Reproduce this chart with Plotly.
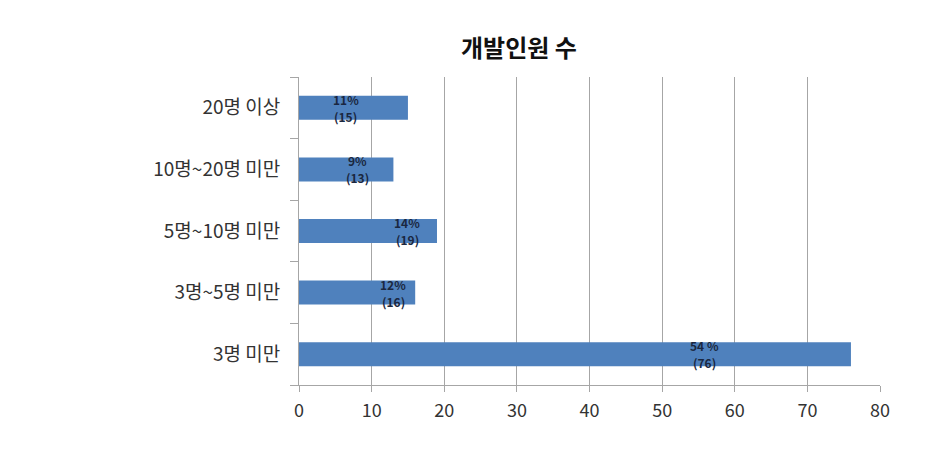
import plotly.graph_objects as go

# Data
categories = ["3명 미만", "3명~5명 미만", "5명~10명 미만", "10명~20명 미만", "20명 이상"]
counts = [76, 16, 19, 13, 15]
percent_labels = ["54 %", "12%", "14%", "9%", "11%"]
x_ticks = [0, 10, 20, 30, 40, 50, 60, 70, 80]

# Label placement (as fraction of each bar's length)
label_frac = [0.735, 0.81, 0.785, 0.62, 0.43]

FONT = "Noto Sans CJK KR"

L, R, T, B = 291, 76, 69, 72
W, H = 948, 449
plot_w = W - L - R
plot_h = H - T - B

fig = go.Figure()
fig.add_trace(go.Bar(
    y=categories, x=counts, orientation="h",
    marker=dict(color="#4f81bd", line=dict(width=0)),
    hoverinfo="skip",
))

for cat, v, p, f in zip(categories, counts, percent_labels, label_frac):
    fig.add_annotation(
        x=v * f, y=cat, xref="x", yref="y", yshift=8.5, yanchor="middle",
        text=f"<b>{p}</b>", showarrow=False, borderpad=0,
        font=dict(family=FONT, size=12, color="#1a2740", weight="bold"),
    )
    fig.add_annotation(
        x=v * f, y=cat, xref="x", yref="y", yshift=-8.5, yanchor="middle",
        text=f"<b>({v})</b>", showarrow=False, borderpad=0,
        font=dict(family=FONT, size=12, color="#1a2740", weight="bold"),
    )

fig.add_annotation(
    x=(511 - L) / plot_w, y=1 + (T - 38) / plot_h,
    xref="paper", yref="paper",
    xanchor="center", yanchor="middle",
    text="<b>개발인원 수</b>", showarrow=False,
    font=dict(family=FONT, size=24, color="#111111"),
)

fig.update_layout(
    width=W, height=H,
    margin=dict(l=L, r=R, t=T, b=B),
    paper_bgcolor="white", plot_bgcolor="white",
    showlegend=False,
    bargap=0.61,
    font=dict(family=FONT, size=18, color="#333333"),
)
fig.update_xaxes(
    range=[0, 80], tickvals=x_ticks, ticktext=[str(t) for t in x_ticks],
    showgrid=True, gridcolor="#a6a6a6", gridwidth=1,
    showline=True, linecolor="#a6a6a6", linewidth=1,
    ticks="outside", ticklen=6, tickcolor="#a6a6a6",
    tickfont=dict(family=FONT, size=18, color="#333333"),
    ticklabelstandoff=3,
    zeroline=False, fixedrange=True,
)
fig.update_yaxes(
    categoryorder="array", categoryarray=categories,
    showline=True, linecolor="#a6a6a6", linewidth=1,
    ticks="outside", ticklen=8, tickcolor="#a6a6a6", tickson="boundaries",
    showgrid=False, zeroline=False,
    tickfont=dict(family=FONT, size=19, color="#333333"),
    ticklabelstandoff=14, fixedrange=True,
)

fig.write_html("out.html")
